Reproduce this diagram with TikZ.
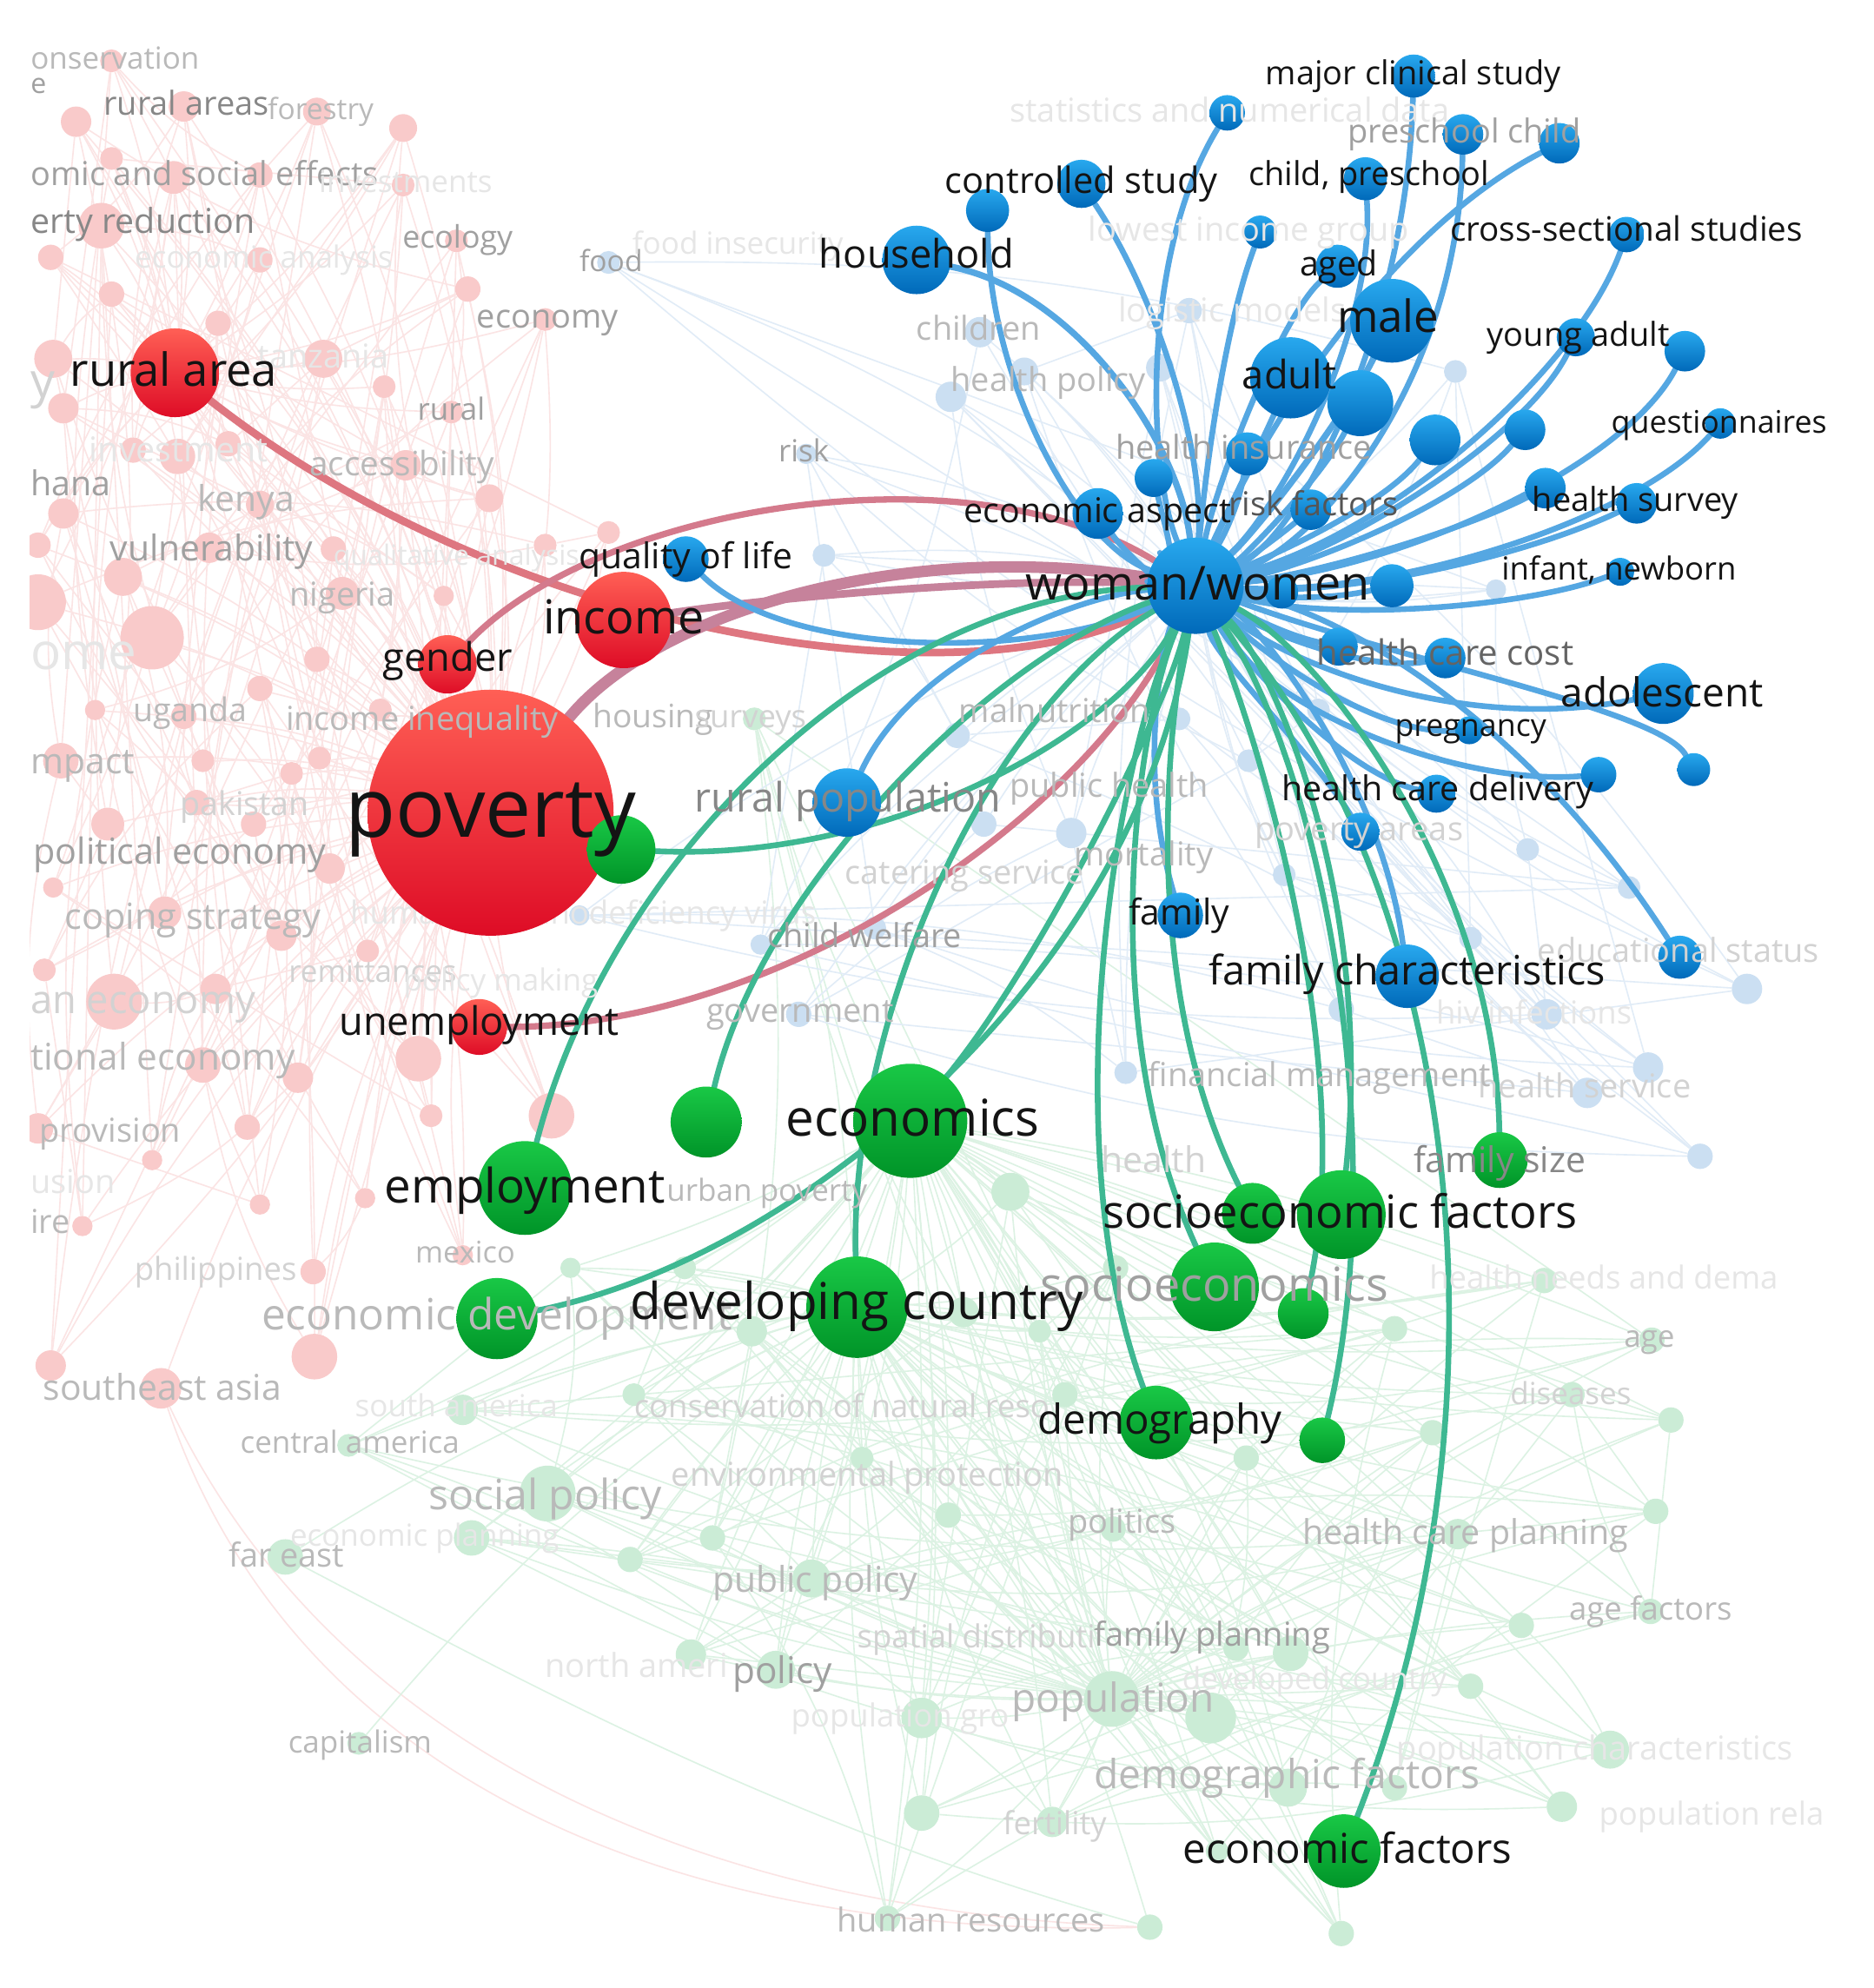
\documentclass[tikz,border=0pt]{standalone}
\usepackage{fontspec}
\setmainfont{Open Sans}
\usetikzlibrary{calc}
\pgfdeclarelayer{fedges}
\pgfdeclarelayer{fnodes}
\pgfdeclarelayer{hedges}
\pgfdeclarelayer{top}
\pgfsetlayers{fedges,fnodes,hedges,main,top}

\definecolor{redT}{RGB}{255,95,85}
\definecolor{redB}{RGB}{222,12,38}
\definecolor{bluT}{RGB}{40,168,238}
\definecolor{bluB}{RGB}{0,105,185}
\definecolor{grnT}{RGB}{25,200,70}
\definecolor{grnB}{RGB}{0,148,40}
\definecolor{fR}{RGB}{249,202,202}
\definecolor{fG}{RGB}{203,236,214}
\definecolor{fB}{RGB}{203,223,242}
\definecolor{eR}{RGB}{251,228,228}
\definecolor{eG}{RGB}{220,242,227}
\definecolor{eB}{RGB}{225,236,247}
\definecolor{cBL}{RGB}{85,167,226}
\definecolor{cTE}{RGB}{62,184,146}
\definecolor{cMV}{RGB}{198,130,155}
\definecolor{cPK}{RGB}{222,118,128}
\definecolor{cPM}{RGB}{212,122,140}
\definecolor{gA}{RGB}{135,135,135}
\definecolor{gB}{RGB}{160,160,160}
\definecolor{gC}{RGB}{185,185,185}
\definecolor{gD}{RGB}{210,210,210}
\definecolor{gE}{RGB}{230,230,230}
\definecolor{gH}{RGB}{100,100,100}
\definecolor{gK}{RGB}{85,85,85}
\definecolor{dk}{RGB}{20,20,20}

\tikzset{
 hR/.style={circle,inner sep=0pt,draw=none,top color=redT,bottom color=redB},
 hB/.style={circle,inner sep=0pt,draw=none,top color=bluT,bottom color=bluB},
 hG/.style={circle,inner sep=0pt,draw=none,top color=grnT,bottom color=grnB},
 fRn/.style={circle,inner sep=0pt,fill=fR},
 fGn/.style={circle,inner sep=0pt,fill=fG},
 fBn/.style={circle,inner sep=0pt,fill=fB},
 feR/.style={draw=eR,line width=1.1pt},
 feG/.style={draw=eG,line width=1.1pt},
 feB/.style={draw=eB,line width=1.1pt},
 eBL/.style={draw=cBL,line width=4.5pt,line cap=round},
 eTE/.style={draw=cTE,line width=4.5pt,line cap=round},
 eMV/.style={draw=cMV,line width=6pt,line cap=round},
}
\newcommand\mynode[5]{\node[#1,minimum size=2*#5] (#2) at (#3,#4) {};}
\newcommand\mylab[7]{\node[inner sep=0pt,anchor=#7,text=#5,font=\fontsize{#4}{#4}\selectfont] (#6) at (#2,{#3+0.27*#4}) {#1};}
\newcommand\myedge[4]{\draw[#1] (#2) .. controls #3 and #4 .. (W);}

\begin{document}
\begin{tikzpicture}[x=1pt,y=-1pt]
\useasboundingbox (0,0) rectangle (1478,1568);
\begin{pgfonlayer}{fedges}\fill[white] (0,0) rectangle (1478,1568);\end{pgfonlayer}

% ---------- highlighted nodes ----------
\mynode{hR}{poverty}{387}{641}{97}
\mynode{hR}{ruralarea}{138}{294}{35}
\mynode{hR}{income}{492}{489}{38}
\mynode{hR}{gender}{353}{524}{23}
\mynode{hR}{unemp}{378}{810}{22}

\mynode{hB}{W}{943}{462}{38}
\mynode{hB}{qol}{541}{441}{18}
\mynode{hB}{household}{723}{205}{27}
\mynode{hB}{b779}{779}{166}{17}
\mynode{hB}{controlled}{853}{145}{19}
\mynode{hB}{stat}{968}{89}{14}
\mynode{hB}{lowinc}{994}{183}{13}
\mynode{hB}{major}{1115}{60}{17}
\mynode{hB}{preschool}{1154}{106}{16}
\mynode{hB}{b1230}{1230}{113}{16}
\mynode{hB}{childpre}{1077}{141}{17}
\mynode{hB}{aged}{1055}{210}{17}
\mynode{hB}{cross}{1283}{185}{14}
\mynode{hB}{male}{1098}{253}{33}
\mynode{hB}{adult}{1018}{298}{32}
\mynode{hB}{b1073}{1073}{318}{26}
\mynode{hB}{young}{1243}{266}{15}
\mynode{hB}{b1329}{1329}{277}{16}
\mynode{hB}{quest}{1357}{334}{12}
\mynode{hB}{b1203}{1203}{339}{16}
\mynode{hB}{b1132}{1132}{347}{20}
\mynode{hB}{hins}{910}{377}{15}
\mynode{hB}{b984}{984}{358}{17}
\mynode{hB}{econasp}{866}{405}{20}
\mynode{hB}{riskf}{1034}{402}{16}
\mynode{hB}{hsurv1}{1219}{385}{16}
\mynode{hB}{hsurv2}{1291}{397}{16}
\mynode{hB}{infant}{1278}{451}{11}
\mynode{hB}{b1098}{1098}{462}{17}
\mynode{hB}{b1011}{1011}{467}{13}
\mynode{hB}{hcc1}{1056}{510}{15}
\mynode{hB}{hcc2}{1140}{519}{16}
\mynode{hB}{adol}{1312}{547}{24}
\mynode{hB}{preg}{1159}{576}{11}
\mynode{hB}{b1261}{1261}{611}{14}
\mynode{hB}{b1336}{1336}{607}{13}
\mynode{hB}{hcd}{1133}{626}{15}
\mynode{hB}{povareas}{1073}{656}{15}
\mynode{hB}{family}{931}{722}{18}
\mynode{hB}{famchar}{1110}{770}{25}
\mynode{hB}{edu}{1325}{755}{17}
\mynode{hB}{ruralpop}{668}{633}{27}

\mynode{hG}{economics}{718}{884}{45}
\mynode{hG}{devc}{676}{1031}{40}
\mynode{hG}{employment}{414}{937}{37}
\mynode{hG}{sef}{1058}{958}{35}
\mynode{hG}{demog}{912}{1122}{29}
\mynode{hG}{ecof}{1060}{1460}{29}
\mynode{hG}{g557}{557}{885}{28}
\mynode{hG}{g490}{490}{670}{27}
\mynode{hG}{ecodev}{392}{1040}{32}
\mynode{hG}{socioec}{958}{1015}{35}
\mynode{hG}{g988}{988}{957}{24}
\mynode{hG}{g1028}{1028}{1036}{20}
\mynode{hG}{g1043}{1043}{1136}{18}
\mynode{hG}{famsize}{1183}{915}{22}

% ---------- faded nodes ----------
\begin{pgfonlayer}{fnodes}
\foreach [count=\k] \x/\y/\rad in {88/48/9, 60/96/12, 145/84/12, 250/88/11, 318/101/11, 88/125/9, 137/140/13, 205/138/10, 318/146/9, 80/178/18, 40/203/10, 205/205/10, 88/232/10, 172/255/10, 369/228/10, 430/252/9, 42/283/15, 255/283/15, 50/322/12, 303/305/9, 356/325/9, 105/355/10, 140/360/14, 180/350/10, 320/367/12, 386/393/11, 50/405/12, 205/398/11, 30/430/10, 97/455/15, 165/432/12, 263/433/10, 30/475/22, 120/503/25, 270/468/13, 350/470/8, 75/560/8, 145/565/10, 205/543/10, 48/600/14, 252/598/9, 155/633/10, 85/650/13, 200/650/10, 260/685/12, 42/700/8, 130/720/13, 222/738/12, 35/765/9, 90/790/22, 170/780/12, 160/840/14, 235/850/12, 330/835/18, 340/880/9, 30/890/12, 195/889/10, 120/915/8, 205/950/8, 288/945/8, 65/967/8, 247/1003/10, 365/990/8, 40/1077/12, 248/1070/18, 435/880/18, 300/560/9, 430/430/9, 290/750/9, 300/620/8, 160/600/9, 230/610/9, 360/190/9, 480/420/9, 250/520/10}
 {\node[fRn,minimum size=2*\rad] (r\k) at (\x,\y) {}; \xdef\NR{\k}}
\node[fRn,minimum size=32] (rSEA) at (127,1095) {};
\foreach [count=\k] \x/\y/\rad in {275/1140/9, 372/1213/14, 432/1178/22, 365/1112/12, 497/1230/10, 562/1213/10, 640/1245/15, 612/1317/15, 748/1195/10, 878/1206/10, 545/1305/12, 727/1355/16, 877/1340/22, 955/1355/20, 975/1300/10, 1018/1304/14, 727/1430/14, 830/1437/12, 1016/1410/15, 1150/1210/12, 1232/1425/12, 1270/1380/15, 1200/1282/10, 1302/1271/10, 1318/1120/10, 1303/1057/10, 1240/1100/10, 1218/1010/10, 1100/1048/10, 1130/1130/10, 983/1150/10, 797/940/15, 700/1513/10, 1058/1525/10, 593/1050/12, 760/1035/12, 840/1100/10, 1306/1192/10, 595/567/9, 880/1000/10, 820/1050/9, 500/1100/9, 680/1150/9, 1160/1330/10, 1100/1410/10, 960/1460/9, 540/1000/9, 450/1000/8}
 {\node[fGn,minimum size=2*\rad] (g\k) at (\x,\y) {}; \xdef\NG{\k}}
\node[fGn,minimum size=18] (gCap) at (283,1375) {};
\node[fGn,minimum size=20] (gHR) at (907,1520) {};
\node[fGn,minimum size=28] (gFE) at (225,1228) {};
\foreach [count=\k] \x/\y/\rad in {650/438/9, 636/358/8, 750/313/12, 808/293/11, 773/262/12, 915/290/11, 1148/293/9, 1180/465/8, 755/580/10, 930/567/9, 985/600/9, 1013/690/9, 776/650/10, 845/657/12, 690/732/9, 630/800/10, 1058/796/10, 1220/800/12, 1300/842/12, 1252/862/12, 1378/780/12, 1341/912/10, 1160/740/9, 888/846/9, 457/722/8, 480/207/9, 938/245/10, 1040/560/9, 1205/670/9, 1285/700/9, 600/745/8}
 {\node[fBn,minimum size=2*\rad] (b\k) at (\x,\y) {}; \xdef\NB{\k}}
% this faded label lies under the large poverty node
\mylab{human immunodeficiency virus}{460}{722}{25}{gE}{f32}{base}
\end{pgfonlayer}

% ---------- faint edges ----------
\begin{pgfonlayer}{fedges}
\foreach \k in {1,...,\NR}{
  \pgfmathtruncatemacro\mm{mod(\k*7,\NR)+1}
  \pgfmathtruncatemacro\nn{mod(\k*13+5,\NR)+1}
  \draw[feR] (r\k) to[bend left=8] (poverty);
  \ifnum\mm=\k\else\draw[feR] (r\k) to[bend right=10] (r\mm);\fi
  \ifnum\nn=\k\else\draw[feR] (r\k) -- (r\nn);\fi
  \ifnum\k<30 \draw[feR] (r\k) to[bend left=6] (ruralarea);\fi
}
\draw[feR] (rSEA) to[bend left=8] (poverty);
\draw[feR] (rSEA) .. controls (220,1370) and (480,1530) .. (gHR);
\draw[feR] (rSEA) .. controls (245,1345) and (500,1505) .. (gHR);
\draw[feG] (gFE) .. controls (420,1330) and (620,1440) .. (gHR);
\draw[feG] (gCap) to[bend left=8] (devc);
\draw[feG] (gFE) to[bend left=8] (devc);
\draw[feG] (gHR) to[bend right=8] (devc);
\foreach \k in {1,...,\NG}{
  \pgfmathtruncatemacro\mm{mod(\k*7,\NG)+1}
  \pgfmathtruncatemacro\nn{mod(\k*5+2,\NG)+1}
  \draw[feG] (g\k) to[bend left=6] (devc);
  \draw[feG] (g\k) to[bend right=5] (economics);
  \ifnum\k=13\else\draw[feG] (g\k) to[bend right=6] (g13);\fi
  \ifnum\mm=\k\else\draw[feG] (g\k) -- (g\mm);\fi
  \ifnum\nn=\k\else\draw[feG] (g\k) to[bend left=10] (g\nn);\fi
}
\foreach \k in {1,...,\NB}{
  \pgfmathtruncatemacro\mm{mod(\k*7,\NB)+1}
  \pgfmathtruncatemacro\nn{mod(\k*3+4,\NB)+1}
  \draw[feB] (b\k) to[bend left=8] (W);
  \ifnum\mm=\k\else\draw[feB] (b\k) -- (b\mm);\fi
  \ifnum\nn=\k\else\draw[feB] (b\k) to[bend right=8] (b\nn);\fi
}
\end{pgfonlayer}

% ---------- highlighted edges ----------
\begin{pgfonlayer}{hedges}
\myedge{eMV,draw=cPK}{ruralarea}{(400,500)}{(760,560)}
\myedge{eMV,draw=cPM,line width=5pt}{gender}{(470,400)}{(760,350)}
\myedge{eMV}{income}{(620,470)}{(800,455)}
\myedge{eMV,line width=9pt}{poverty}{(520,480)}{(720,425)}
\myedge{eMV,draw=cPM,line width=5pt}{unemp}{(620,810)}{(860,640)}

\myedge{eBL}{qol}{(620,520)}{(820,520)}
\myedge{eBL,line width=5pt}{household}{(850,230)}{(930,350)}
\myedge{eBL}{b779}{(780,300)}{(850,430)}
\myedge{eBL}{controlled}{(910,230)}{(950,350)}
\myedge{eBL}{stat}{(900,200)}{(905,370)}
\myedge{eBL}{lowinc}{(965,260)}{(950,380)}
\myedge{eBL}{major}{(1110,250)}{(1030,420)}
\myedge{eBL}{preschool}{(1150,300)}{(1040,430)}
\myedge{eBL}{b1230}{(1100,180)}{(1000,330)}
\myedge{eBL}{childpre}{(1085,260)}{(1010,400)}
\myedge{eBL}{aged}{(1010,250)}{(960,380)}
\myedge{eBL}{cross}{(1245,290)}{(1100,420)}
\myedge{eBL,line width=5pt}{male}{(1060,330)}{(990,420)}
\myedge{eBL}{adult}{(990,360)}{(960,420)}
\myedge{eBL}{b1073}{(1040,380)}{(980,440)}
\myedge{eBL}{young}{(1200,350)}{(1050,440)}
\myedge{eBL}{b1329}{(1280,370)}{(1100,450)}
\myedge{eBL}{quest}{(1290,410)}{(1100,470)}
\myedge{eBL}{b1203}{(1150,400)}{(1020,450)}
\myedge{eBL}{b1132}{(1090,400)}{(1000,440)}
\myedge{eBL}{hins}{(920,420)}{(930,450)}
\myedge{eBL}{b984}{(975,410)}{(955,440)}
\myedge{eBL}{econasp}{(890,440)}{(920,460)}
\myedge{eBL}{riskf}{(1000,430)}{(970,450)}
\myedge{eBL}{hsurv1}{(1150,420)}{(1030,455)}
\myedge{eBL}{hsurv2}{(1200,440)}{(1060,470)}
\myedge{eBL}{infant}{(1200,480)}{(1050,490)}
\myedge{eBL}{b1098}{(1040,475)}{(990,470)}
\myedge{eBL}{b1011}{(990,470)}{(970,466)}
\myedge{eBL}{hcc1}{(1010,500)}{(975,480)}
\myedge{eBL}{hcc2}{(1080,530)}{(1000,500)}
\myedge{eBL}{adol}{(1150,580)}{(1010,520)}
\myedge{eBL}{preg}{(1080,580)}{(990,510)}
\myedge{eBL}{b1261}{(1150,620)}{(1000,560)}
\myedge{eBL}{b1336}{(1310,560)}{(1100,520)}
\myedge{eBL}{hcd}{(1060,610)}{(980,520)}
\myedge{eBL}{povareas}{(1040,600)}{(960,520)}
\myedge{eBL}{family}{(895,600)}{(920,500)}
\myedge{eBL}{famchar}{(1090,620)}{(1000,500)}
\myedge{eBL}{edu}{(1200,560)}{(1050,480)}
\myedge{eBL}{ruralpop}{(720,520)}{(850,470)}

\myedge{eTE}{economics}{(820,760)}{(920,560)}
\myedge{eTE}{devc}{(670,800)}{(780,560)}
\myedge{eTE}{employment}{(480,680)}{(690,470)}
\myedge{eTE}{g557}{(600,700)}{(780,520)}
\myedge{eTE}{ecodev}{(640,990)}{(900,760)}
\myedge{eTE}{sef}{(1085,700)}{(1000,520)}
\myedge{eTE}{famsize}{(1180,700)}{(1050,520)}
\myedge{eTE}{ecof}{(1200,1100)}{(1150,700)}
\myedge{eTE}{demog}{(830,900)}{(880,600)}
\myedge{eTE}{g1043}{(1100,900)}{(1040,600)}
\myedge{eTE}{g988}{(900,780)}{(920,580)}
\myedge{eTE}{socioec}{(860,800)}{(900,560)}
\myedge{eTE}{g1028}{(1070,850)}{(1000,600)}
\myedge{eTE}{g490}{(700,680)}{(880,580)}
\end{pgfonlayer}

% ---------- labels ----------
\begin{pgfonlayer}{top}
\mylab{onservation}{24}{48}{24}{gC}{f1}{base west}
\mylab{e}{24}{68}{22}{gB}{f2}{base west}
\mylab{rural areas}{147}{84}{26}{gA}{f3}{base}
\mylab{forestry}{253}{88}{23}{gC}{f4}{base}
\mylab{omic and social effects}{24}{139}{26}{gB}{f5}{base west}
\mylab{investments}{320}{145}{24}{gE}{f6}{base}
\mylab{erty reduction}{24}{177}{27}{gA}{f7}{base west}
\mylab{economic analysis}{208}{205}{24}{gE}{f8}{base}
\mylab{ecology}{361}{189}{24.5}{gB}{f9}{base}
\mylab{food}{482}{208}{23}{gB}{f10}{base}
\mylab{food insecurity}{582}{194}{24}{gE}{f11}{base}
\mylab{economy}{432}{252}{26}{gB}{f12}{base}
\mylab{tanzania}{255}{283}{26}{gE}{f13}{base}
\mylab{y}{24}{303}{38}{gD}{f14}{base west}
\mylab{rural}{356}{325}{24}{gB}{f15}{base}
\mylab{investment}{141}{357}{27}{gE}{f16}{base}
\mylab{accessibility}{317}{368}{26.5}{gC}{f17}{base}
\mylab{hana}{24}{384}{27}{gB}{f18}{base west}
\mylab{kenya}{194}{396}{28}{gC}{f19}{base}
\mylab{vulnerability}{167}{435}{28}{gB}{f20}{base}
\mylab{qualitative analysis}{360}{440}{22}{gE}{f21}{base}
\mylab{nigeria}{270}{471}{26}{gC}{f22}{base}
\mylab{ome}{24}{517}{40}{gE}{f23}{base west}
\mylab{uganda}{150}{562}{25.7}{gC}{f24}{base}
\mylab{income inequality}{333}{569}{26}{gC}{f25}{base}
\mylab{housing}{515}{567}{25.5}{gC}{f26}{base}
\mylab{surveys}{592}{567}{25}{gD}{f27}{base}
\mylab{mpact}{24}{603}{28}{gC}{f28}{base west}
\mylab{pakistan}{193}{636}{25.8}{gD}{f29}{base}
\mylab{political economy}{142}{674}{28.3}{gB}{f30}{base}
\mylab{coping strategy}{152}{725}{28.4}{gC}{f31}{base}
\mylab{remittances}{294}{768}{24}{gD}{f33}{base}
\mylab{policy making}{395}{775}{24}{gE}{f34}{base}
\mylab{an economy}{24}{791}{31}{gD}{f35}{base west}
\mylab{tional economy}{24}{836}{29}{gC}{f36}{base west}
\mylab{provision}{87}{894}{26}{gC}{f37}{base}
\mylab{usion}{24}{934}{26}{gE}{f38}{base west}
\mylab{ire}{24}{966}{26}{gC}{f39}{base west}
\mylab{philippines}{170}{1003}{25}{gD}{f40}{base}
\mylab{mexico}{367}{990}{23.6}{gC}{f41}{base}
\mylab{economic development}{392}{1040}{34}{gC}{f42}{base}
\mylab{southeast asia}{128}{1097}{28}{gC}{f43}{base}
\mylab{south america}{360}{1111}{24}{gE}{f44}{base}
\mylab{conservation of natural reso}{664}{1111}{25}{gD}{f45}{base}
\mylab{central america}{276}{1140}{24}{gC}{f46}{base}
\mylab{environmental protection}{684}{1165}{26}{gD}{f47}{base}
\mylab{social policy}{430}{1182}{33}{gC}{f48}{base}
\mylab{economic planning}{335}{1213}{24}{gE}{f49}{base}
\mylab{far east}{226}{1229}{26}{gC}{f50}{base}
\mylab{public policy}{643}{1248}{28}{gC}{f51}{base}
\mylab{politics}{885}{1202}{26}{gC}{f52}{base}
\mylab{spatial distributi}{770}{1293}{25}{gD}{f53}{base}
\mylab{family planning}{956}{1291}{26}{gB}{f54}{base}
\mylab{north ameri}{502}{1316}{26}{gE}{f55}{base}
\mylab{policy}{617}{1320}{29}{gB}{f56}{base}
\mylab{population gro}{710}{1355}{25}{gE}{f57}{base}
\mylab{population}{878}{1342}{31.5}{gC}{f58}{base}
\mylab{developed country}{1037}{1326}{24}{gE}{f59}{base}
\mylab{demographic factors}{1015}{1402}{31.6}{gC}{f60}{base}
\mylab{fertility}{832}{1440}{25}{gD}{f61}{base}
\mylab{human resources}{766}{1517}{26}{gC}{f62}{base}
\mylab{capitalism}{284}{1376}{24}{gC}{f63}{base}
\mylab{health care planning}{1156}{1211}{27}{gC}{f64}{base}
\mylab{age factors}{1302}{1271}{25}{gC}{f65}{base}
\mylab{population characteristics}{1258}{1381}{26}{gE}{f66}{base}
\mylab{population rela}{1350}{1433}{25}{gE}{f67}{base}
\mylab{age}{1301}{1056}{24}{gC}{f68}{base}
\mylab{diseases}{1239}{1101}{24}{gD}{f69}{base}
\mylab{health needs and dema}{1265}{1010}{25}{gE}{f70}{base}
\mylab{health service}{1250}{859}{26}{gD}{f71}{base}
\mylab{financial management}{1041}{850}{26}{gC}{f72}{base}
\mylab{health}{910}{917}{28}{gD}{f73}{base}
\mylab{hiv infections}{1210}{801}{25}{gE}{f74}{base}
\mylab{educational status}{1324}{752}{26}{gD}{f75}{base}
\mylab{child welfare}{682}{740}{26}{gB}{f76}{base}
\mylab{government}{631}{799}{26}{gC}{f77}{base}
\mylab{catering service}{761}{690}{26}{gD}{f78}{base}
\mylab{mortality}{902}{676}{26}{gC}{f79}{base}
\mylab{public health}{875}{622}{26}{gC}{f80}{base}
\mylab{malnutrition}{832}{563}{26}{gC}{f81}{base}
\mylab{poverty areas}{1072}{656}{26}{gD}{f82}{base}
\mylab{urban poverty}{605}{941}{24}{gC}{f83}{base}
\mylab{risk}{634}{358}{24}{gB}{f84}{base}
\mylab{health policy}{827}{302}{26}{gC}{f85}{base}
\mylab{children}{772}{261}{26}{gC}{f86}{base}
\mylab{logistic models}{972}{247}{26}{gE}{f87}{base}
\mylab{lowest income group}{985}{183}{26}{gE}{f88}{base}
\mylab{statistics and numerical data}{970}{89}{26}{gE}{f89}{base}
\mylab{health insurance}{981}{355}{26}{gB}{f90}{base}
\mylab{preschool child}{1155}{106}{26}{gB}{f91}{base}
\mylab{rural population}{669}{632}{32}{gA}{f92}{base}
\mylab{socioeconomics}{958}{1016}{37}{gB}{f93}{base}
\mylab{family size}{1183}{917}{28}{gA}{f94}{base}
\mylab{health care cost}{1140}{517}{27.5}{gH}{f95}{base}
\mylab{risk factors}{1036}{400}{26}{gK}{f96}{base}

\mylab{poverty}{387}{643}{65}{dk}{Lpov}{base}
\mylab{rural area}{137}{295}{36}{dk}{Lrur}{base}
\mylab{income}{492}{490}{37}{dk}{Linc}{base}
\mylab{gender}{353}{521}{31}{dk}{Lgen}{base}
\mylab{unemployment}{378}{808}{31}{dk}{Lune}{base}
\mylab{quality of life}{541}{441}{28}{dk}{Lqol}{base}
\mylab{economics}{720}{885}{40}{dk}{Leco}{base}
\mylab{developing country}{676}{1030}{40}{dk}{Ldev}{base}
\mylab{employment}{414}{939}{37.5}{dk}{Lemp}{base}
\mylab{socioeconomic factors}{1057}{959}{36}{dk}{Lsef}{base}
\mylab{demography}{915}{1122}{32.5}{dk}{Ldem}{base}
\mylab{economic factors}{1063}{1461}{32.5}{dk}{Lecf}{base}
\mylab{woman/women}{945}{463}{37}{dk}{LW}{base}
\mylab{household}{723}{203}{31}{dk}{Lhou}{base}
\mylab{controlled study}{853}{145}{28.5}{dk}{Lcon}{base}
\mylab{major clinical study}{1115}{60}{26}{dk}{Lmaj}{base}
\mylab{child, preschool}{1080}{139}{26}{dk}{Lchp}{base}
\mylab{cross-sectional studies}{1283}{183}{26.5}{dk}{Lcro}{base}
\mylab{aged}{1056}{210}{27}{dk}{Lage}{base}
\mylab{male}{1095}{253}{35}{dk}{Lmal}{base}
\mylab{adult}{1017}{298}{31}{dk}{Ladu}{base}
\mylab{young adult}{1245}{266}{26}{dk}{Lyou}{base}
\mylab{questionnaires}{1356}{335}{24.5}{dk}{Lque}{base}
\mylab{health survey}{1290}{396}{26}{dk}{Lhsu}{base}
\mylab{infant, newborn}{1277}{451}{25}{dk}{Linf}{base}
\mylab{adolescent}{1311}{549}{31.5}{dk}{Lado}{base}
\mylab{pregnancy}{1160}{574}{24.5}{dk}{Lpre}{base}
\mylab{health care delivery}{1134}{624}{27}{dk}{Lhcd}{base}
\mylab{family}{930}{722}{28}{dk}{Lfam}{base}
\mylab{family characteristics}{1110}{768}{32}{dk}{Lfch}{base}
\mylab{economic aspect}{866}{405}{27}{dk}{Leas}{base}

\fill[white] (0,0) rectangle (23,1568);
\end{pgfonlayer}
\end{tikzpicture}
\end{document}
